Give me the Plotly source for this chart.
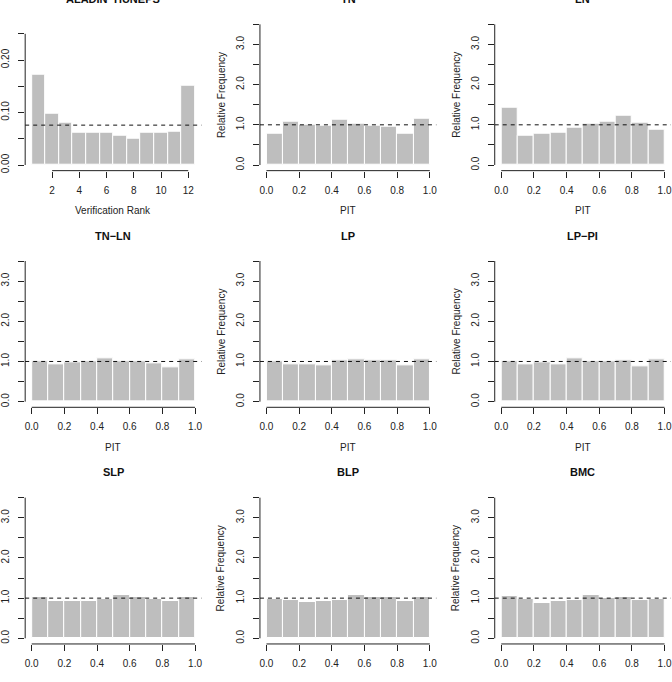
import plotly.graph_objects as go

W, H = 672, 682

# ---------------- data ----------------
panel_titles = ["ALADIN−HUNEPS", "TN", "LN", "TN−LN", "LP", "LP−PI", "SLP", "BLP", "BMC"]

rank_labels = list(range(1, 13))
rank_freq = [0.172, 0.097, 0.080, 0.062, 0.062, 0.062, 0.056, 0.051, 0.061, 0.061, 0.063, 0.151]
rank_reference = 0.076

pit_bins = [0.05, 0.15, 0.25, 0.35, 0.45, 0.55, 0.65, 0.75, 0.85, 0.95]
pit_tn = [0.78, 1.07, 1.00, 0.97, 1.12, 1.04, 0.99, 0.96, 0.79, 1.15]
pit_ln = [1.42, 0.73, 0.77, 0.80, 0.92, 1.02, 1.07, 1.23, 1.06, 0.88]
pit_tnln = [1.00, 0.94, 0.97, 1.00, 1.08, 1.00, 1.01, 0.95, 0.85, 1.06]
pit_lp = [1.00, 0.94, 0.93, 0.91, 1.03, 1.05, 1.02, 1.02, 0.90, 1.05]
pit_lppi = [1.00, 0.94, 0.97, 0.93, 1.07, 1.00, 1.00, 1.03, 0.89, 1.05]
pit_slp = [1.02, 0.94, 0.94, 0.93, 0.97, 1.08, 1.04, 0.98, 0.94, 1.02]
pit_blp = [0.99, 0.95, 0.90, 0.94, 0.95, 1.08, 1.04, 1.03, 0.94, 1.04]
pit_bmc = [1.05, 0.97, 0.88, 0.93, 0.96, 1.07, 1.01, 1.04, 0.96, 0.99]
pit_reference = 1.0

pit_series = [pit_tn, pit_ln, pit_tnln, pit_lp, pit_lppi, pit_slp, pit_blp, pit_bmc]

pit_xticks = [0.0, 0.2, 0.4, 0.6, 0.8, 1.0]
pit_xticktext = ["0.0", "0.2", "0.4", "0.6", "0.8", "1.0"]
pit_yticks = [0.0, 0.5, 1.0, 1.5, 2.0, 2.5, 3.0, 3.5]
pit_yticktext = ["0.0", "", "1.0", "", "2.0", "", "3.0", ""]
rank_xticks = [2, 4, 6, 8, 10, 12]
rank_xticktext = ["2", "4", "6", "8", "10", "12"]
rank_yticks = [0.0, 0.05, 0.10, 0.15, 0.20, 0.25]
rank_yticktext = ["0.00", "", "0.10", "", "0.20", ""]

# ---------------- layout geometry (pixels) ----------------
col_left = [18.4, 256.0, 493.6]
col_width = 178.5
row_top = [18.8, 256.5, 494.2]
row_height = 152.6

FONT = "Liberation Sans, Arial, sans-serif"
AXC = "#222222"
BAR = "#BEBEBE"

fig = go.Figure()
layout = dict(
    width=W, height=H, margin=dict(l=0, r=0, t=0, b=0),
    paper_bgcolor="white", plot_bgcolor="white",
    showlegend=False, font=dict(family=FONT, size=10, color=AXC),
)
shapes = []
annotations = []

def px2x(p):
    return p / W

def px2y(p):
    return 1 - p / H

for i in range(9):
    r, c = divmod(i, 3)
    n = "" if i == 0 else str(i + 1)
    xa, ya = "x" + n, "y" + n
    x0p = col_left[c]
    x1p = min(x0p + col_width, W)
    y0p = row_top[r]
    y1p = y0p + row_height

    if i == 0:
        xs, ys, width = rank_labels, rank_freq, 1.0
        xlo, xhi = 0.5, 12.5
        ylo, yhi = 0.0, 0.268
        xt, xtt, yt, ytt = rank_xticks, rank_xticktext, rank_yticks, rank_yticktext
        ref = rank_reference
        xtitle = "Verification Rank"
    else:
        xs, ys, width = pit_bins, pit_series[i - 1], 0.1
        xlo, xhi = 0.0, 1.0
        ylo, yhi = 0.0, 3.5
        xt, xtt, yt, ytt = pit_xticks, pit_xticktext, pit_yticks, pit_yticktext
        ref = pit_reference
        xtitle = "PIT"

    # R style 4% expansion
    dx = (xhi - xlo) * 0.04
    dy = (yhi - ylo) * 0.04
    xr0 = xlo - dx
    xr1_full = xhi + dx
    # clip right edge to canvas while keeping scale
    xr1 = xr0 + (xr1_full - xr0) * (x1p - x0p) / col_width

    fig.add_trace(go.Bar(
        x=xs, y=ys, width=width, xaxis=xa, yaxis=ya,
        marker=dict(color=BAR, line=dict(color="white", width=1)),
        hoverinfo="skip",
    ))

    common = dict(showgrid=False, zeroline=False, showline=False,
                  ticks="outside", ticklen=6, tickwidth=1, tickcolor=AXC,
                  tickfont=dict(family=FONT, size=10, color=AXC))
    layout["xaxis" + n] = dict(domain=[px2x(x0p), px2x(x1p)], range=[xr0, xr1], anchor=ya,
                               tickvals=xt, ticktext=xtt, tickangle=0,
                               ticklabelstandoff=4, **common)
    layout["yaxis" + n] = dict(domain=[px2y(y1p), px2y(y0p)], range=[ylo - dy, yhi + dy], anchor=xa,
                               tickvals=yt, ticktext=ytt, tickangle=-90,
                               ticklabelstandoff=5, **common)

    # axis lines from first to last tick
    shapes.append(dict(type="line", xref=xa, yref=ya + " domain", x0=xt[0], x1=xt[-1], y0=0, y1=0,
                       line=dict(color=AXC, width=1)))
    shapes.append(dict(type="line", xref=xa + " domain", yref=ya, x0=0, x1=0, y0=yt[0], y1=yt[-1],
                       line=dict(color=AXC, width=1)))
    # reference dashed line
    shapes.append(dict(type="line", xref=xa + " domain", yref=ya, x0=0, x1=1, y0=ref, y1=ref,
                       line=dict(color="#111111", width=1, dash="4px,4px"), layer="above"))

    cx = (x0p + x0p + col_width) / 2
    # title
    annotations.append(dict(text="<b>" + panel_titles[i] + "</b>", xref="paper", yref="paper",
                            x=px2x(cx), y=px2y(y0p - 19.7), showarrow=False,
                            xanchor="center", yanchor="middle",
                            font=dict(family=FONT, size=11, color="#111111")))
    # x title (rows 1-2 only are inside the canvas)
    if r < 2:
        annotations.append(dict(text=xtitle, xref="paper", yref="paper",
                                x=px2x(cx), y=px2y(y1p + 40.3), showarrow=False,
                                xanchor="center", yanchor="middle",
                                font=dict(family=FONT, size=10, color=AXC)))
    # y title (column 1 lies outside the canvas)
    if c > 0:
        annotations.append(dict(text="Relative Frequency", xref="paper", yref="paper",
                                x=px2x(x0p - 39), y=px2y((y0p + y1p) / 2), showarrow=False,
                                textangle=-90, xanchor="center", yanchor="middle",
                                font=dict(family=FONT, size=10, color=AXC)))

layout["shapes"] = shapes
layout["annotations"] = annotations
layout["bargap"] = 0
fig.update_layout(**layout)

fig.write_html("out.html")
